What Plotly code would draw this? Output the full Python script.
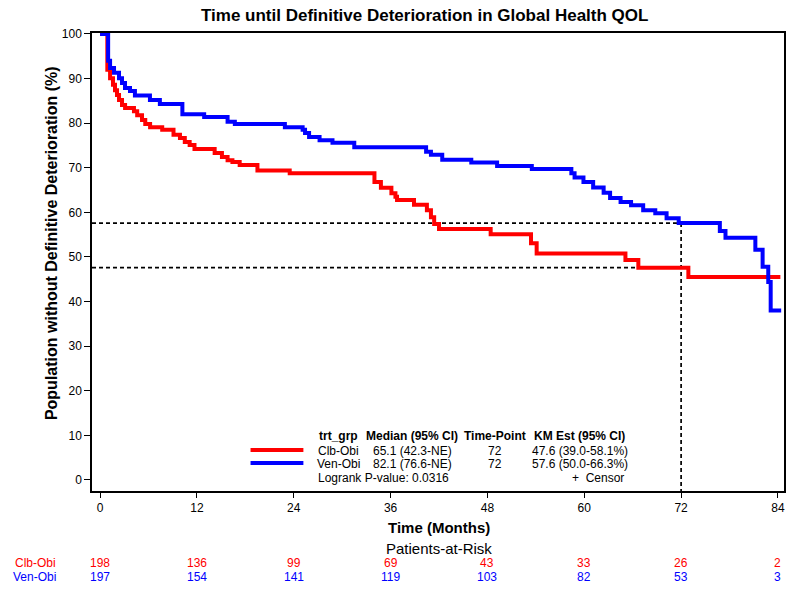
import plotly.graph_objects as go

# Kaplan-Meier step estimates: time in months, % without definitive deterioration
clb_t = [0, 0.9, 1.24, 1.6, 1.85, 2.1, 2.35, 2.72, 3.1, 4.2, 4.6, 5.2, 5.6, 6.2, 7.7, 9.1, 9.9,
         10.5, 11.1, 11.7, 14.2, 15.1, 15.8, 16.4, 17.3, 19.5, 23.5, 34.0, 34.8, 36.1, 36.6, 36.8,
         38.9, 40.5, 41.0, 41.4, 42.0, 48.4, 53.4, 54.1, 65.1, 66.7, 72.9, 84.3]
clb_s = [100, 92.0, 90.1, 88.6, 87.4, 86.3, 85.2, 84.1, 83.4, 82.7, 81.8, 80.7, 79.8, 79.1, 78.5,
         77.4, 76.7, 75.8, 75.1, 74.2, 73.3, 72.4, 71.7, 71.3, 70.6, 69.4, 68.8, 66.8, 65.5, 64.3,
         63.5, 62.8, 61.7, 60.5, 58.9, 57.4, 56.3, 55.1, 53.1, 50.8, 49.3, 47.6, 45.5, 45.5]

ven_t = [0, 1.0, 1.24, 1.73, 2.35, 2.72, 3.09, 3.71, 4.32, 6.18, 7.41, 10.2, 12.9, 15.8, 16.7,
         22.9, 25.1, 25.4, 25.9, 27.2, 28.8, 31.5, 40.4, 41.0, 42.4, 46.0, 49.2, 53.5, 58.4, 58.8,
         59.9, 61.1, 62.4, 63.2, 64.5, 65.8, 67.3, 68.8, 70.2, 71.7, 76.8, 77.5, 81.2, 82.1, 82.8,
         83.1, 84.4]
ven_s = [100, 94.0, 92.4, 91.3, 90.1, 89.0, 87.9, 87.2, 86.2, 85.2, 84.3, 82.0, 81.4, 80.3, 79.8,
         79.1, 78.5, 77.8, 76.9, 76.2, 75.6, 74.6, 73.6, 72.9, 71.8, 71.2, 70.4, 69.7, 68.8, 67.8,
         66.8, 65.6, 64.4, 63.2, 62.3, 61.6, 60.5, 59.8, 58.7, 57.6, 55.8, 54.3, 51.6, 47.8, 44.4,
         38.0, 38.0]

# Summary statistics
groups = ["Clb-Obi", "Ven-Obi"]
medians = ["65.1 (42.3-NE)", "82.1 (76.6-NE)"]
time_point = 72
km_est = [47.6, 57.6]
km_ci = ["39.0-58.1%", "50.0-66.3%"]
logrank_p = "0.0316"

# Patients-at-risk table
risk_times = [0, 12, 24, 36, 48, 60, 72, 84]
clb_risk = [198, 136, 99, 69, 43, 33, 26, 2]
ven_risk = [197, 154, 141, 119, 103, 82, 53, 3]

RED = "#ff0000"
BLUE = "#0000ff"
FONT = "Liberation Sans, Arial, sans-serif"

X_RANGE = [-1.0, 84.75]
Y_RANGE = [-2.47, 100.22]

fig = go.Figure()

# Reference lines at the landmark time point
for est in km_est:
    fig.add_trace(go.Scatter(x=[X_RANGE[0], time_point], y=[est, est], mode="lines",
                             line=dict(color="black", width=1.7, dash="4px,3px"),
                             hoverinfo="skip", showlegend=False))
fig.add_trace(go.Scatter(x=[time_point, time_point], y=[max(km_est), Y_RANGE[0]], mode="lines",
                         line=dict(color="black", width=1.7, dash="4px,3px"),
                         hoverinfo="skip", showlegend=False))

# Survival curves
fig.add_trace(go.Scatter(x=clb_t, y=clb_s, mode="lines", line_shape="hv",
                         line=dict(color=RED, width=4), name=groups[0], showlegend=False))
fig.add_trace(go.Scatter(x=ven_t, y=ven_s, mode="lines", line_shape="hv",
                         line=dict(color=BLUE, width=4), name=groups[1], showlegend=False))

# Plot area in pixels: left 92, right 786, top 33, bottom 491
L, R, T, B = 92, 786, 33, 491


def px(x):
    return (x - L) / (R - L)


def py(y):
    return (B - y) / (B - T)


ann = []


def text(s, x, y, size=12, bold=False, color="black", xanchor="center", angle=0, xref="paper"):
    ann.append(dict(text=f"<b>{s}</b>" if bold else s, x=x, y=y, xref=xref, yref="paper",
                    xanchor=xanchor, yanchor="middle", showarrow=False, textangle=angle,
                    font=dict(family=FONT, size=size, color=color)))


# Titles
text("Time until Definitive Deterioration in Global Health QOL", px(425), py(16), size=17, bold=True)
text("Population without Definitive Deterioration (%)", px(52), py(243), size=16, bold=True, angle=-90)
text("Time (Months)", px(440), py(527), size=15, bold=True)
text("Patients-at-Risk", px(440), py(548), size=15)

# Risk table
for row_y, name, counts, col in [(563, groups[0], clb_risk, RED), (577, groups[1], ven_risk, BLUE)]:
    text(name, px(58), py(row_y), color=col, xanchor="right")
    for t, n in zip(risk_times, counts):
        text(str(n), t, py(row_y), color=col, xref="x")

# Inset legend table
cols = [339, 413, 496, 581]
text("trt_grp", px(cols[0]), py(436), bold=True)
text("Median (95% CI)", px(cols[1]), py(436), bold=True)
text("Time-Point", px(cols[2]), py(436), bold=True)
text("KM Est (95% CI)", px(cols[3]), py(436), bold=True)
shapes = []
for row_y, line_y, g, m, e, ci, col in zip([451, 464], [450, 463], groups, medians, km_est, km_ci, [RED, BLUE]):
    text(g, px(cols[0]), py(row_y))
    text(m, px(cols[1]), py(row_y))
    text(str(time_point), px(cols[2]), py(row_y))
    text(f"{e} ({ci})", px(cols[3]), py(row_y))
    shapes.append(dict(type="line", xref="paper", yref="paper", x0=px(251), x1=px(304),
                       y0=py(line_y), y1=py(line_y), line=dict(color=col, width=4)))
text(f"Logrank P-value: {logrank_p}", px(317), py(478), xanchor="left")
text("+  Censor", px(628), py(478), xanchor="right")

fig.update_layout(
    width=789, height=590,
    margin=dict(l=L, r=789 - R, t=T, b=590 - B),
    paper_bgcolor="white", plot_bgcolor="white",
    font=dict(family=FONT, size=12, color="black"),
    annotations=ann, shapes=shapes,
    xaxis=dict(range=X_RANGE, tickvals=risk_times, ticks="outside", ticklen=5, tickwidth=1,
               tickcolor="black", showline=True, linecolor="black", linewidth=1.5, mirror=True,
               showgrid=False, zeroline=False, tickfont=dict(size=12, family=FONT)),
    yaxis=dict(range=Y_RANGE, tickvals=list(range(0, 101, 10)), ticks="outside", ticklen=6,
               tickwidth=1, tickcolor="black", showline=True, linecolor="black", linewidth=1.5,
               mirror=True, showgrid=False, zeroline=False, tickfont=dict(size=12, family=FONT)),
)

fig.write_html("out.html")
